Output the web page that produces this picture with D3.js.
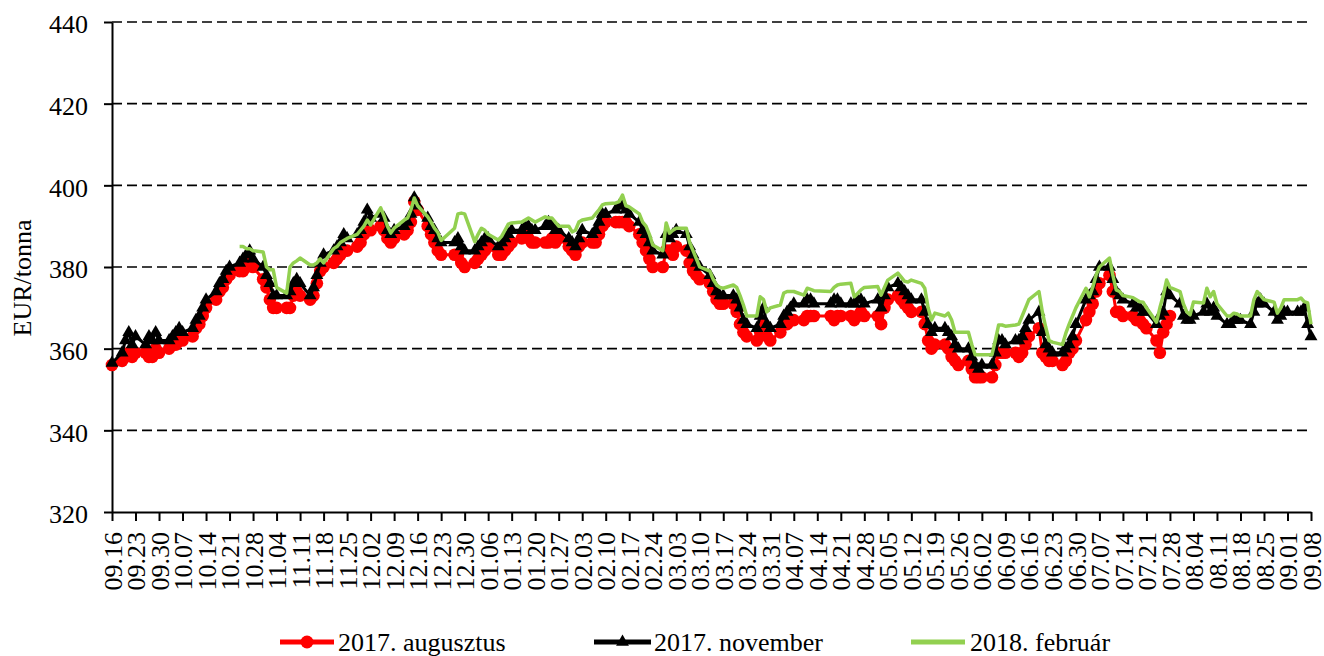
<!DOCTYPE html>
<html><head><meta charset="utf-8">
<script src="https://cdn.jsdelivr.net/npm/d3@7"></script>
<style>
body{margin:0;background:#fff}
svg{display:block}
text{font-family:"Liberation Serif","Times New Roman",serif;fill:#000}
</style>
</head><body>
<svg id="c" width="1324" height="656"></svg>
<script>
const tickLabels = ["09.16","09.23","09.30","10.07","10.14","10.21","10.28","11.04","11.11","11.18","11.25","12.02","12.09","12.16","12.23","12.30","01.06","01.13","01.20","01.27","02.03","02.10","02.17","02.24","03.03","03.10","03.17","03.24","03.31","04.07","04.14","04.21","04.28","05.05","05.12","05.19","05.26","06.02","06.09","06.16","06.23","06.30","07.07","07.14","07.21","07.28","08.04","08.11","08.18","08.25","09.01","09.08"];
const yTicks = [320,340,360,380,400,420,440];
const holidays = ["2016-12-26","2017-04-14","2017-04-17","2017-05-01"];
const seriesNames = ["2017. augusztus","2017. november","2018. február"];
const seriesStart = ["2016-09-16","2016-09-16","2016-10-24"];

// 2017. augusztus (weekly groups of trading days, from 2016-09-16)
const augWeeks = [
[356],
[357,358,359,358,359],[359,358,358,360,359],[360,361,361,362,362],[363,365,366,368,370],
[372,374,375,377,378],[379,379,380,381,380],[377,375,372,370,370],[370,370,373,374,373],
[372,373,376,379,380],[381,382,383,384,384],[385,386,388,390,389],[390,389,387,386,387],
[388,389,391,396,394],[390,388,386,384,383],[383,383,381,380],[381,382,383,384,385],
[383,383,384,385,386],[387,388,387,386,386],[386,386,387,386,387],[385,384,383,385,386],
[386,386,388,390,391],[391,391,391,391,390],[388,386,384,382,380],[380,384,384,383,385],
[384,381,379,378,377],[376,374,372,371,371],[371,369,366,364,363],[362,364,366,363,362],
[364,366,366,367,367],[367,368,368,368],[368,367,368,368],[368,367,368,369,368],
[368,366,370,372],[373,372,371,370,369],[369,366,362,360,361],[361,360,358,357,356],
[357,355,353,353,353],[353,356,359,359,359],[359,358,359,361,363],[365,359,358,357,357],
[356,357,359,360,362],[367,369,371,374,376],[378,374,369,369,368],[368,367,367,366,365],
[362,359,364,366,368]
];
// 2017. november (from 2016-09-16)
const novWeeks = [
[356.5],
[359,362,364,361,363],[361,363,362,364,362],[362,363,364,365,364],[365,367,368,370,372],
[374,376,377,379,380],[381,382,383,384,382],[380,378,376,373,373],[373,374,376,377,376],
[373,375,378,381,383],[384,385,386,388,387],[388,389,391,394,392],[393,392,389,388,389],
[390,391,393,397,395],[392,390,389,387,386],[386,387,385,384],[384,385,386,387,387],
[385,386,387,388,389],[389,390,390,389,389],[390,391,390,389,389],[387,386,385,387,389],
[388,389,391,393,393],[394,395,395,394,393],[391,389,388,386,384],[383,388,387,388,389],
[388,385,383,381,380],[378,376,374,373,373],[373,372,370,367,366],[365,368,370,366,365],
[366,368,369,370,371],[371,372,372,371],[371,372,372,371],[371,371,372,372,371],
[372,370,373,375],[376,375,374,373,372],[372,369,366,364,365],[365,364,363,361,360],
[360,358,356,355,356],[356,359,362,362,361],[362,362,363,365,367],[369,364,361,360,359],
[359,360,361,363,366],[372,373,374,377,380],[380,377,374,373,372],[371,370,370,369,369],
[366,368,369,374,373],[371,368,367,367,368],[369,371,369,370,368],[366,366,367,367,367],
[366,369,371,372,371],[369,367,368,369,369],[369,369,370,366,363]
];
// 2018. február (from 2016-10-24)
const febWeeks = [
[385,385,384.5,384.5,384],[383.7,380,379.3,379.3,375],[373.6,380,381,381.5,382.2],
[380.5,380.5,381,382,381],[384.5,385,386,386.5,387],[388,389,390,391.5,390.3],
[394.5,392.5,390,388.3,389.5],[391.5,392,394,396.9,395],[392.3,391,389.5,388.5,386.5],
[389.5,393,393.2,393],[386.2,388,389.5,389,388],[386.6,387.5,389,390.5,390.8],
[391,391.5,392,391.5,391],[392.3,392,392,391,390],[390,388.6,389,391,391.5],
[392,393,394,395.2,395.5],[395.7,396,397.6,395,394.7],[393,391,390,388,385.4],
[384,390.8,388.3,389,389.5],[389.5,386,384,382,380],[379,377,375.6,375,374.8],
[375.6,375,373,370.7,368],[368,372.7,372,369,370],[370.7,373.6,374,374,374],
[373.1,374.8,374.5,374.2],[374,375,375.6,375.8],[376,372.7,373.5,374.4,375],
[375.2,373.1,375,376.8],[378.5,377.5,376.5,376.3,376.8],[376,374.8,370,367,368.7],
[368,368.7,367,364,364],[364,361,358.5,358.5,358.5],[358.5,362,365.8,365.8,365.5],
[365.8,366,368,370,372],[374,369,365.3,362,361.6],[361,363.8,366,368,370],
[374.8,372.7,375,378,380],[382.2,378,374.4,374,373],[372.5,372,371.5,371.4,370],
[366.5,370,373,376.8,375],[374,371,369,368.3,371.4],[371.2,374.8,372.7,374,371],
[368,368,368.7,368.5,368],[368,372,374,373,372],[371.4,368.7,370,372,372],
[372,372.4,371.5,371.2,366]
];

const fmt = d3.utcFormat("%Y-%m-%d");
const parse = d3.utcParse("%Y-%m-%d");
const start = parse("2016-09-16"), end = parse("2017-09-08");
const tradingDays = d3.utcDays(start, d3.utcDay.offset(end, 1))
  .filter(d => d.getUTCDay() % 6 !== 0 && !holidays.includes(fmt(d)));
function build(weeks, s) {
  const vals = weeks.flat();
  const i0 = tradingDays.findIndex(d => fmt(d) === s);
  return vals.map((v, i) => ({date: tradingDays[i0 + i], value: v})).filter(p => p.date);
}
const aug = build(augWeeks, seriesStart[0]);
const nov = build(novWeeks, seriesStart[1]);
const feb = build(febWeeks, seriesStart[2]);

const svg = d3.select("#c");
const x = d3.scaleUtc().domain([start, end]).range([112, 1311]);
const y = d3.scaleLinear().domain([320, 440]).range([512, 22]);

// gridlines
svg.append("g").selectAll("line").data(yTicks.filter(v => v > 320)).join("line")
  .attr("x1", 112).attr("x2", 1311).attr("y1", d => y(d)).attr("y2", d => y(d))
  .attr("stroke", "#000").attr("stroke-width", 1.6).attr("stroke-dasharray", "10,5");

// y axis
const ya = svg.append("g").attr("transform", "translate(112,0)")
  .call(d3.axisLeft(y).tickValues(yTicks).tickSize(8).tickSizeOuter(0).tickPadding(16).tickFormat(d3.format("d")));
ya.select(".domain").attr("stroke", "#000").attr("stroke-width", 2);
ya.selectAll(".tick line").attr("stroke", "#000").attr("stroke-width", 2);
ya.selectAll(".tick text").attr("font-size", 26).attr("dy", "0.42em")
  .style("font-family", "'Liberation Serif','Times New Roman',serif");

// x axis
const tickDates = tickLabels.map((t, i) => d3.utcDay.offset(start, 7 * i));
const xa = svg.append("g").attr("transform", "translate(0,512)")
  .call(d3.axisBottom(x).tickValues(tickDates).tickSize(9).tickSizeOuter(0).tickFormat((d, i) => tickLabels[i]));
xa.select(".domain").attr("stroke", "#000").attr("stroke-width", 2);
xa.selectAll(".tick line").attr("stroke", "#000").attr("stroke-width", 2);
xa.selectAll(".tick text").attr("font-size", 26).attr("y", 0).attr("x", -20).attr("dy", "0.35em")
  .attr("transform", "rotate(-90)").style("text-anchor", "end")
  .style("font-family", "'Liberation Serif','Times New Roman',serif");

// y label
svg.append("text").attr("transform", "translate(31,278) rotate(-90)")
  .attr("text-anchor", "middle").attr("font-size", 26).text("EUR/tonna");

const line = d3.line().x(d => x(d.date)).y(d => y(d.value));
const colors = ["#ff0000", "#000000", "#92d050"];

// red series
svg.append("path").datum(aug).attr("d", line).attr("fill", "none")
  .attr("stroke", colors[0]).attr("stroke-width", 3).attr("stroke-linejoin", "round");
svg.append("g").selectAll("circle").data(aug).join("circle")
  .attr("cx", d => x(d.date)).attr("cy", d => y(d.value)).attr("r", 6.3).attr("fill", colors[0]);

// black series
svg.append("path").datum(nov).attr("d", line).attr("fill", "none")
  .attr("stroke", colors[1]).attr("stroke-width", 3).attr("stroke-linejoin", "round");
const tri = d3.symbol().type(d3.symbolTriangle).size(72);
svg.append("g").selectAll("path").data(nov).join("path")
  .attr("d", tri).attr("transform", d => `translate(${x(d.date)},${y(d.value)})`).attr("fill", colors[1]);

// green series
svg.append("path").datum(feb).attr("d", line).attr("fill", "none")
  .attr("stroke", colors[2]).attr("stroke-width", 3.5).attr("stroke-linejoin", "round");

// legend
const leg = [
  {x1: 280, x2: 334, tx: 338, marker: "circle"},
  {x1: 594, x2: 651, tx: 654, marker: "tri"},
  {x1: 911, x2: 965, tx: 970, marker: null}
];
const ly = 642;
leg.forEach((l, i) => {
  svg.append("line").attr("x1", l.x1).attr("x2", l.x2).attr("y1", ly).attr("y2", ly)
    .attr("stroke", colors[i]).attr("stroke-width", 5);
  const cx = (l.x1 + l.x2) / 2;
  if (l.marker === "circle") svg.append("circle").attr("cx", cx).attr("cy", ly).attr("r", 6.5).attr("fill", colors[i]);
  if (l.marker === "tri") svg.append("path").attr("d", tri).attr("transform", `translate(${cx},${ly})`).attr("fill", colors[i]);
  svg.append("text").attr("x", l.tx).attr("y", 651).attr("font-size", 26).text(seriesNames[i]);
});
</script>
</body></html>
